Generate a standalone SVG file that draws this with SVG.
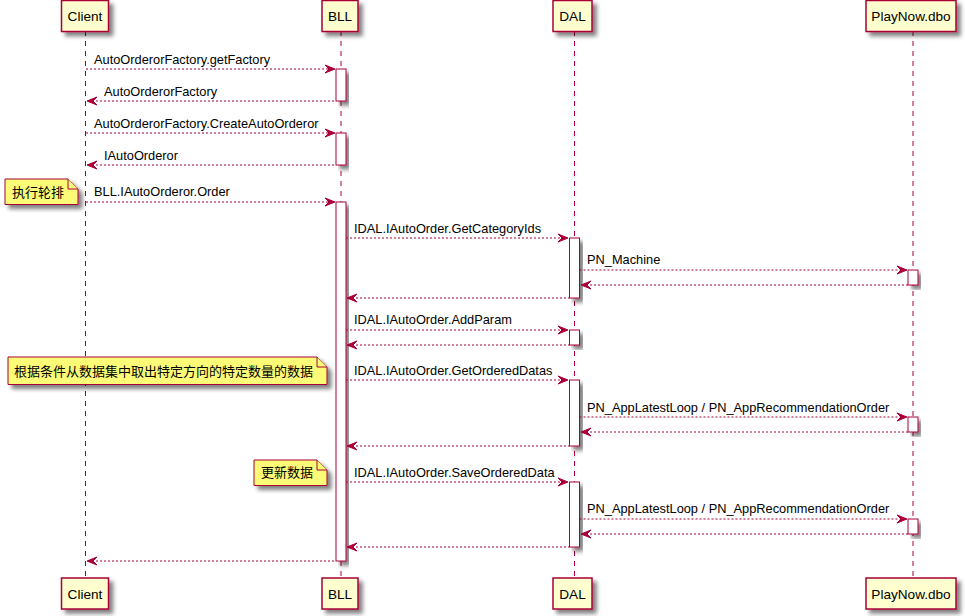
<svg xmlns="http://www.w3.org/2000/svg" width="965" height="616" viewBox="0 0 965 616">
<style>
  .bg { fill: #ffffff; }
  .life { stroke: #A80036; stroke-width: 1; stroke-dasharray: 5,5; fill: none; }
  .part rect { fill: #FEFECE; stroke: #A80036; stroke-width: 1.5; }
  .part text { font-family: "Liberation Sans", Arial, sans-serif; font-size: 13.6px; fill: #000; text-anchor: middle; }
  .act { fill: #FFFFFF; stroke: #A80036; stroke-width: 1; }
  .msg { stroke: #A80036; stroke-width: 1; stroke-dasharray: 2,2; fill: none; }
  .head { fill: #A80036; stroke: #A80036; stroke-width: 1; }
  .lbl { font-family: "Liberation Sans", Arial, sans-serif; font-size: 12.8px; fill: #000; }
  .note path { fill: #FBFB77; stroke: #A80036; stroke-width: 1; }
  .note text { font-family: "Liberation Sans", "Noto Sans CJK SC", sans-serif; font-size: 13px; fill: #000; }
</style>
<defs>
  <filter id="shadow" x="-20%" y="-20%" width="150%" height="150%">
    <feGaussianBlur in="SourceAlpha" stdDeviation="2" result="b"/>
    <feOffset in="b" dx="4" dy="4" result="o"/>
    <feComponentTransfer in="o" result="s"><feFuncA type="linear" slope="0.5"/></feComponentTransfer>
    <feMerge><feMergeNode in="s"/><feMergeNode in="SourceGraphic"/></feMerge>
  </filter>
  <polygon id="arrR" class="head" points="-10,-4 0,0 -10,4 -6,0"/>
  <polygon id="arrL" class="head" points="10,-4 0,0 10,4 6,0"/>
</defs>
<rect class="bg" x="0" y="0" width="965" height="616"/>

<!-- lifelines -->
<g id="lifelines">
  <line class="life" x1="85.5" y1="31" x2="85.5" y2="578"/>
  <line class="life" x1="341" y1="31" x2="341" y2="578"/>
  <line class="life" x1="574.5" y1="31" x2="574.5" y2="578"/>
  <line class="life" x1="913" y1="31" x2="913" y2="578"/>
</g>

<!-- participants (top and bottom) -->
<g id="client" class="part">
  <rect x="61.5" y="0.5" width="47" height="31" filter="url(#shadow)"/>
  <text x="85" y="21">Client</text>
  <rect x="61.5" y="578" width="47" height="31" filter="url(#shadow)"/>
  <text x="85" y="598.5">Client</text>
</g>
<g id="bll" class="part">
  <rect x="322" y="0.5" width="36" height="31" filter="url(#shadow)"/>
  <text x="340" y="21">BLL</text>
  <rect x="322" y="578" width="36" height="31" filter="url(#shadow)"/>
  <text x="340" y="598.5">BLL</text>
</g>
<g id="dal" class="part">
  <rect x="553" y="0.5" width="39" height="31" filter="url(#shadow)"/>
  <text x="572.5" y="21">DAL</text>
  <rect x="553" y="578" width="39" height="31" filter="url(#shadow)"/>
  <text x="572.5" y="598.5">DAL</text>
</g>
<g id="playnow" class="part">
  <rect x="866" y="0.5" width="90" height="31" filter="url(#shadow)"/>
  <text x="911" y="21">PlayNow.dbo</text>
  <rect x="866" y="578" width="90" height="31" filter="url(#shadow)"/>
  <text x="911" y="598.5">PlayNow.dbo</text>
</g>

<!-- activation bars -->
<g id="activations">
  <rect class="act" x="336" y="69" width="10" height="32" filter="url(#shadow)"/>
  <rect class="act" x="336" y="133" width="10" height="32" filter="url(#shadow)"/>
  <rect class="act" x="336" y="202" width="10" height="359" filter="url(#shadow)"/>
  <rect class="act" x="569.5" y="238" width="10" height="60" filter="url(#shadow)"/>
  <rect class="act" x="908" y="270" width="10" height="15" filter="url(#shadow)"/>
  <rect class="act" x="569.5" y="330" width="10" height="15" filter="url(#shadow)"/>
  <rect class="act" x="569.5" y="380" width="10" height="66" filter="url(#shadow)"/>
  <rect class="act" x="908" y="417" width="10" height="15" filter="url(#shadow)"/>
  <rect class="act" x="569.5" y="482" width="10" height="65" filter="url(#shadow)"/>
  <rect class="act" x="908" y="519" width="10" height="15" filter="url(#shadow)"/>
</g>

<!-- notes -->
<g id="note1" class="note">
  <path d="M5,179 L5,204.5 L78,204.5 L78,189 L68,179 Z" filter="url(#shadow)"/>
  <path d="M68,179 L68,189 L78,189"/>
  <text x="12" y="197">执行轮排</text>
</g>
<g id="note2" class="note">
  <path d="M8,357 L8,384.5 L327,384.5 L327,367 L317,357 Z" filter="url(#shadow)"/>
  <path d="M317,357 L317,367 L327,367"/>
  <text x="14" y="376">根据条件从数据集中取出特定方向的特定数量的数据</text>
</g>
<g id="note3" class="note">
  <path d="M254,460 L254,485.5 L327,485.5 L327,470 L317,460 Z" filter="url(#shadow)"/>
  <path d="M317,460 L317,470 L327,470"/>
  <text x="261" y="477">更新数据</text>
</g>

<!-- connectors -->
<g id="connectors">
  <line class="msg" x1="86" y1="69" x2="334" y2="69"/>
  <use href="#arrR" x="335" y="69"/>
  <text class="lbl" x="94" y="64">AutoOrderorFactory.getFactory</text>

  <line class="msg" x1="88" y1="101" x2="336" y2="101"/>
  <use href="#arrL" x="87" y="101"/>
  <text class="lbl" x="104" y="96">AutoOrderorFactory</text>

  <line class="msg" x1="86" y1="133" x2="334" y2="133"/>
  <use href="#arrR" x="335" y="133"/>
  <text class="lbl" x="94" y="128">AutoOrderorFactory.CreateAutoOrderor</text>

  <line class="msg" x1="88" y1="165" x2="336" y2="165"/>
  <use href="#arrL" x="87" y="165"/>
  <text class="lbl" x="104" y="160">IAutoOrderor</text>

  <line class="msg" x1="86" y1="202" x2="334" y2="202"/>
  <use href="#arrR" x="335" y="202"/>
  <text class="lbl" x="94" y="196">BLL.IAutoOrderor.Order</text>

  <line class="msg" x1="346" y1="238" x2="567" y2="238"/>
  <use href="#arrR" x="568" y="238"/>
  <text class="lbl" x="354" y="233">IDAL.IAutoOrder.GetCategoryIds</text>

  <line class="msg" x1="579.5" y1="270" x2="906" y2="270"/>
  <use href="#arrR" x="907" y="270"/>
  <text class="lbl" x="587" y="264">PN_Machine</text>

  <line class="msg" x1="582" y1="285" x2="908" y2="285"/>
  <use href="#arrL" x="581" y="285"/>

  <line class="msg" x1="348" y1="298" x2="569.5" y2="298"/>
  <use href="#arrL" x="347" y="298"/>

  <line class="msg" x1="346" y1="330" x2="567" y2="330"/>
  <use href="#arrR" x="568" y="330"/>
  <text class="lbl" x="354" y="324">IDAL.IAutoOrder.AddParam</text>

  <line class="msg" x1="348" y1="345" x2="569.5" y2="345"/>
  <use href="#arrL" x="347" y="345"/>

  <line class="msg" x1="346" y1="380" x2="567" y2="380"/>
  <use href="#arrR" x="568" y="380"/>
  <text class="lbl" x="354" y="375">IDAL.IAutoOrder.GetOrderedDatas</text>

  <line class="msg" x1="579.5" y1="417" x2="906" y2="417"/>
  <use href="#arrR" x="907" y="417"/>
  <text class="lbl" x="587" y="412">PN_AppLatestLoop / PN_AppRecommendationOrder</text>

  <line class="msg" x1="582" y1="432" x2="908" y2="432"/>
  <use href="#arrL" x="581" y="432"/>

  <line class="msg" x1="348" y1="446" x2="569.5" y2="446"/>
  <use href="#arrL" x="347" y="446"/>

  <line class="msg" x1="346" y1="482" x2="567" y2="482"/>
  <use href="#arrR" x="568" y="482"/>
  <text class="lbl" x="354" y="477">IDAL.IAutoOrder.SaveOrderedData</text>

  <line class="msg" x1="579.5" y1="519" x2="906" y2="519"/>
  <use href="#arrR" x="907" y="519"/>
  <text class="lbl" x="587" y="513">PN_AppLatestLoop / PN_AppRecommendationOrder</text>

  <line class="msg" x1="582" y1="534" x2="908" y2="534"/>
  <use href="#arrL" x="581" y="534"/>

  <line class="msg" x1="348" y1="547" x2="569.5" y2="547"/>
  <use href="#arrL" x="347" y="547"/>

  <line class="msg" x1="88" y1="561" x2="336" y2="561"/>
  <use href="#arrL" x="87" y="561"/>
</g>
</svg>
